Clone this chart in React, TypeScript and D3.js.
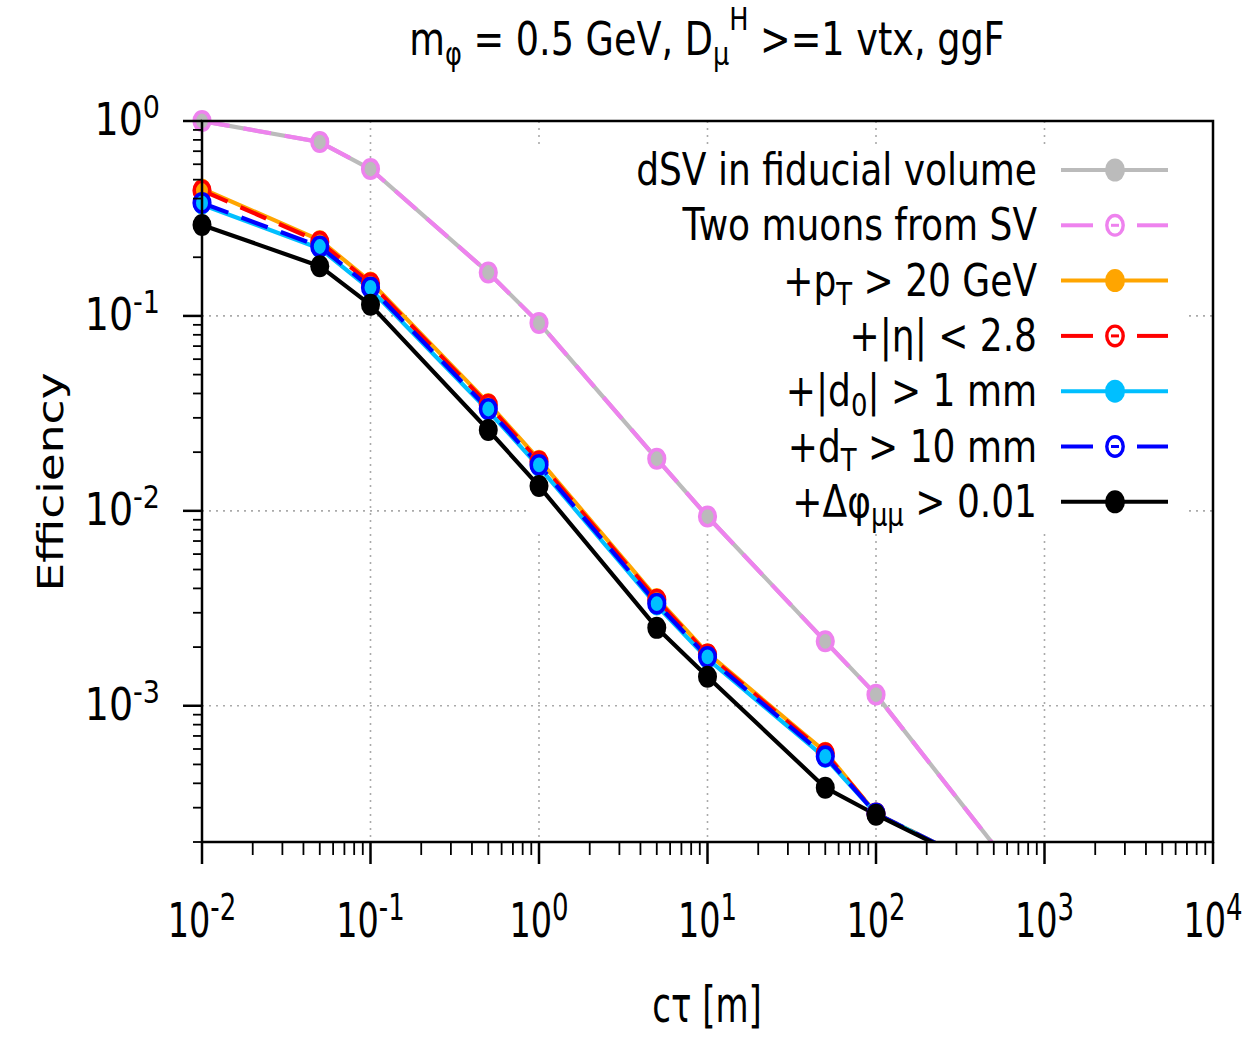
import React from 'react';
import * as d3 from 'd3';

// ---- data ----
const ctau = [0.01, 0.05, 0.1, 0.5, 1, 5, 10, 50, 100, 1000];
const effFiducial = [1.0, 0.78, 0.567, 0.167, 0.092, 0.0185, 0.00935, 0.00214, 0.00114, 0.00009];
const effTwoMuons = [1.0, 0.78, 0.567, 0.167, 0.092, 0.0185, 0.00935, 0.00214, 0.00114, 0.00009];
const effPt = [0.45, 0.245, 0.15, 0.0357, 0.0183, 0.00357, 0.00186, 0.00058, 0.00028, 0.000104];
const effEta = [0.44, 0.24, 0.147, 0.035, 0.0179, 0.0035, 0.00183, 0.00057, 0.00028, 0.000104];
const effD0 = [0.372, 0.222, 0.137, 0.0326, 0.0168, 0.00327, 0.00174, 0.00054, 0.00028, 0.000104];
const effDT = [0.38, 0.227, 0.14, 0.0333, 0.0172, 0.00334, 0.00178, 0.00055, 0.00028, 0.000104];
const effDphi = [0.293, 0.18, 0.114, 0.026, 0.0134, 0.00251, 0.00141, 0.00038, 0.000276, 0.000104];

const xTickExps = ['-2', '-1', '0', '1', '2', '3', '4'];
const yTickExps = ['0', '-1', '-2', '-3'];

type Piece = [string, 'n' | 'sub'];
const labels: Piece[][] = [
  [['dSV in fiducial volume', 'n']],
  [['Two muons from SV', 'n']],
  [['+p', 'n'], ['T', 'sub'], [' > 20 GeV', 'n']],
  [['+|η| < 2.8', 'n']],
  [['+|d', 'n'], ['0', 'sub'], ['| > 1 mm', 'n']],
  [['+d', 'n'], ['T', 'sub'], [' > 10 mm', 'n']],
  [['+Δφ', 'n'], ['μμ', 'sub'], [' > 0.01', 'n']],
];
const colors = ['#bbbbbb', '#ee82ee', '#ffa500', '#ff0000', '#00bfff', '#0000ff', '#000000'];
const dashed = [false, true, false, true, false, true, false];
const seriesValues = [effFiducial, effTwoMuons, effPt, effEta, effD0, effDT, effDphi];

const xLabel = 'cτ [m]';
const yLabel = 'Efficiency';

// ---- layout ----
const W = 1254, H = 1037;
const L = 202, R = 1213, T = 121, B = 842;
const FONT = 'DejaVu Sans, Verdana, sans-serif';

export default function App() {
  const x = d3.scaleLog().domain([0.01, 1e4]).range([L, R]);
  const y = d3.scaleLog().domain([2e-4, 1]).range([B, T]);

  const line = d3.line<[number, number]>().x(d => x(d[0])).y(d => y(d[1]));

  const xMajor = d3.range(-2, 5).map(e => Math.pow(10, e));
  const xMinor: number[] = [];
  for (let e = -2; e < 4; e++) for (let m = 2; m <= 9; m++) xMinor.push(m * Math.pow(10, e));
  const yMajor = d3.range(0, -4, -1).map(e => Math.pow(10, e));
  const yMinor: number[] = [];
  for (let e = -4; e < 0; e++) for (let m = 2; m <= 9; m++) {
    const v = m * Math.pow(10, e);
    if (v >= 2e-4 && v < 1) yMinor.push(v);
  }

  const legX0 = 1061, legX1 = 1168, legM = 1115, legY0 = 170, legDY = 55.3;
  const gridStyle = { stroke: '#aaaaaa', strokeWidth: 1.6, strokeDasharray: '2,5' };

  const LF = 36, LK = 1.21;
  const TF = 36.6, TS = TF * 0.7;

  return (
    <svg width={W} height={H} style={{ position: 'absolute', left: 0, top: 0, background: '#fff' }} fontFamily={FONT}>
      <defs>
        <clipPath id="plotclip">
          <rect x={L} y={T} width={R - L} height={B - T} />
        </clipPath>
      </defs>
      <rect x={0} y={0} width={W} height={H} fill="#fff" />

      {/* grid */}
      {xMajor.slice(1, -1).map((v, i) => (
        <line key={'gx' + i} x1={x(v)} x2={x(v)} y1={T} y2={B} {...gridStyle} />
      ))}
      {yMajor.slice(1).map((v, i) => (
        <line key={'gy' + i} x1={L} x2={R} y1={y(v)} y2={y(v)} {...gridStyle} />
      ))}

      {/* legend background */}
      <rect x={530} y={145} width={658} height={387} fill="#fff" />

      {/* data lines */}
      <g clipPath="url(#plotclip)">
        {seriesValues.map((vals, si) => {
          const pts = ctau.map((c, i) => [c, vals[i]] as [number, number]);
          return (
            <path key={'l' + si} d={line(pts) || ''} fill="none" stroke={colors[si]}
              strokeWidth={4.2} strokeDasharray={dashed[si] ? '28,14' : undefined} strokeLinejoin="round" />
          );
        })}
      </g>
      {/* markers */}
      {seriesValues.map((vals, si) => (
        <g key={'m' + si}>
          {ctau.map((c, i) => {
            if (vals[i] < 2e-4) return null;
            const cx = x(c), cy = y(vals[i]);
            return dashed[si] ? (
              <ellipse key={i} cx={cx} cy={cy} rx={7.8} ry={9.2} fill="none" stroke={colors[si]} strokeWidth={3.6} />
            ) : (
              <ellipse key={i} cx={cx} cy={cy} rx={si === 6 ? 9.5 : 8.5} ry={si === 6 ? 11 : 10} fill={colors[si]} />
            );
          })}
        </g>
      ))}

      {/* frame */}
      <rect x={L} y={T} width={R - L} height={B - T} fill="none" stroke="#000" strokeWidth={2.5} />

      {/* x ticks */}
      {xMajor.map((v, i) => (
        <line key={'xt' + i} x1={x(v)} x2={x(v)} y1={B} y2={B + 22} stroke="#000" strokeWidth={2.5} />
      ))}
      {xMinor.map((v, i) => (
        <line key={'xm' + i} x1={x(v)} x2={x(v)} y1={B} y2={B + 13} stroke="#000" strokeWidth={1.8} />
      ))}
      {/* y ticks */}
      {yMajor.map((v, i) => (
        <line key={'yt' + i} x1={L - 19} x2={L} y1={y(v)} y2={y(v)} stroke="#000" strokeWidth={2.5} />
      ))}
      {yMinor.map((v, i) => (
        <line key={'ym' + i} x1={L - 9} x2={L} y1={y(v)} y2={y(v)} stroke="#000" strokeWidth={1.8} />
      ))}

      {/* x tick labels */}
      {xMajor.map((v, i) => (
        <g key={'xl' + i} transform={`translate(${x(v)},937) scale(1,1.43)`}>
          <text textAnchor="middle" fontSize={33.5} fill="#000">
            10<tspan dy={-12} fontSize={26}>{xTickExps[i]}</tspan>
          </text>
        </g>
      ))}
      {/* y tick labels */}
      {yMajor.map((v, i) => (
        <g key={'yl' + i} transform={`translate(160,${y(v) + 14}) scale(1,1.15)`}>
          <text textAnchor="end" fontSize={38} fill="#000">
            10<tspan dy={-15} fontSize={27}>{yTickExps[i]}</tspan>
          </text>
        </g>
      ))}

      {/* axis labels */}
      <g transform={`translate(707,1022) scale(1,1.45)`}>
        <text textAnchor="middle" fontSize={34} fill="#000">{xLabel}</text>
      </g>
      <g transform={`translate(63,482) scale(1,1.3) rotate(-90)`}>
        <text textAnchor="middle" fontSize={35} fill="#000">{yLabel}</text>
      </g>

      {/* title */}
      <g transform={`translate(707,55) scale(1,1.25)`}>
        <text textAnchor="middle" fontSize={TF} fill="#000">
          m<tspan dy={8} fontSize={TS}>φ</tspan>
          <tspan dy={-8}> = 0.5 GeV, D</tspan>
          <tspan dy={8} fontSize={TS}>μ</tspan>
          <tspan dy={-28} fontSize={TS}>H</tspan>
          <tspan dy={20}> &gt;=1 vtx, ggF</tspan>
        </text>
      </g>

      {/* legend */}
      {labels.map((pieces, si) => {
        const cy = legY0 + si * legDY;
        return (
          <g key={'lg' + si}>
            <g transform={`translate(1037,${cy + 15}) scale(1,${LK})`}>
              <text textAnchor="end" fontSize={LF} fill="#000">
                {pieces.map((p, pi) => {
                  const prevSub = pi > 0 && pieces[pi - 1][1] === 'sub';
                  if (p[1] === 'sub') return <tspan key={pi} dy={8} fontSize={LF * 0.72}>{p[0]}</tspan>;
                  return <tspan key={pi} dy={prevSub ? -8 : 0}>{p[0]}</tspan>;
                })}
              </text>
            </g>
            {dashed[si] ? (
              <g>
                <line x1={legX0} x2={legX0 + 32} y1={cy} y2={cy} stroke={colors[si]} strokeWidth={4} />
                <line x1={legX1 - 31} x2={legX1} y1={cy} y2={cy} stroke={colors[si]} strokeWidth={4} />
                <line x1={legM - 4} x2={legM + 4} y1={cy} y2={cy} stroke={colors[si]} strokeWidth={3} />
                <ellipse cx={legM} cy={cy} rx={8.2} ry={9.8} fill="none" stroke={colors[si]} strokeWidth={3.4} />
              </g>
            ) : (
              <g>
                <line x1={legX0} x2={legX1} y1={cy} y2={cy} stroke={colors[si]} strokeWidth={4} />
                <ellipse cx={legM} cy={cy} rx={10} ry={11.5} fill={colors[si]} />
              </g>
            )}
          </g>
        );
      })}
    </svg>
  );
}
